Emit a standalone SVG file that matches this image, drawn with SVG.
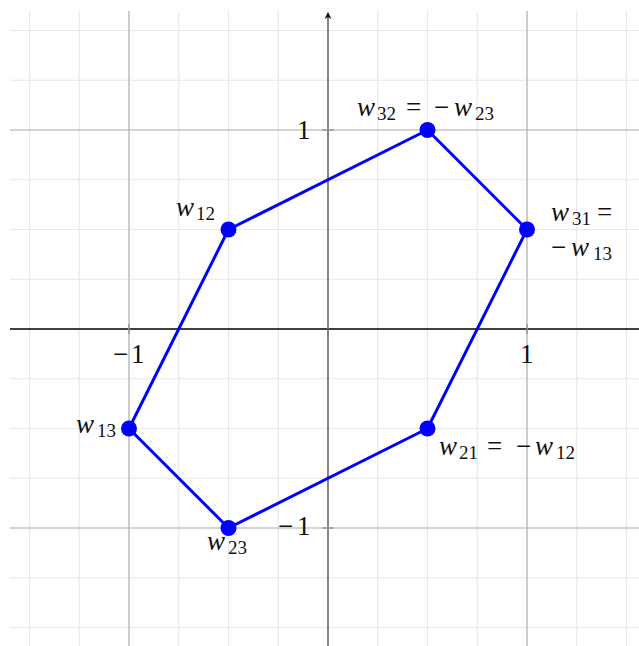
<svg xmlns="http://www.w3.org/2000/svg" width="639" height="646" viewBox="0 0 639 646" font-family="Liberation Serif, DejaVu Serif, serif">
<style>
.minor{stroke:#e8e8e8;stroke-width:1.2;fill:none}
.majv{stroke:#cccccc;stroke-width:2;fill:none}
.majh{stroke:#aaaaaa;stroke-width:1.2;fill:none}
.tick{stroke:#999;stroke-width:1.5}
.m{font-family:'Liberation Serif',serif;font-size:27px;fill:#111}
.i{font-style:italic}
.s{font-size:19px}
.edge{stroke:#0000ff;stroke-width:3;fill:none;stroke-linejoin:round}
.dot{fill:#0000ff}
</style>
<defs>
<marker id="ah" markerWidth="8" markerHeight="8" refX="6" refY="4" orient="auto" markerUnits="userSpaceOnUse">
<path d="M0,0.5 L7,4 L0,7.5 L2,4 Z" fill="#111"/>
</marker>
</defs>
<rect width="639" height="646" fill="#fff"/>
<g id="grid">
<path class="minor" d="M29.5,11V646M79.25,11V646M178.75,11V646M228.5,11V646M278.25,11V646M377.75,11V646M427.5,11V646M477.25,11V646M576.75,11V646M626.5,11V646"/>
<path class="minor" d="M10,30.5H639M10,80.25H639M10,179.75H639M10,229.5H639M10,279.25H639M10,378.75H639M10,428.5H639M10,478.25H639M10,577.75H639M10,627.5H639"/>
<path class="majv" d="M129,11V646M527,11V646"/>
<path class="majh" d="M10,130H639M10,528H639"/>
</g>
<g id="axes">
<line x1="10" y1="329" x2="639" y2="329" stroke="#000" stroke-width="1.5"/>
<line x1="328" y1="646" x2="328" y2="13" stroke="#666" stroke-width="1.6" marker-end="url(#ah)"/>
<path class="tick" d="M129,324V334M527,324V334M322,130H334M322,528H334"/>
<text class="m" font-family="Liberation Serif, serif" x="113" y="363">−</text><text class="m" font-family="Liberation Serif, serif" x="131" y="363">1</text>
<text class="m" font-family="Liberation Serif, serif" x="520" y="363">1</text>
<text class="m" font-family="Liberation Serif, serif" x="297" y="139">1</text>
<text class="m" font-family="Liberation Serif, serif" x="278" y="535">−</text><text class="m" font-family="Liberation Serif, serif" x="297" y="535">1</text>
</g>
<g id="connectors">
<polygon class="edge" points="228.5,229.5 427.5,130 527,229.5 427.5,428.5 228.5,528 129,428.5"/>
</g>
<g id="w12">
<circle class="dot" cx="228.5" cy="229.5" r="8"/>
<text class="m" font-family="Liberation Serif, serif" y="216"><tspan class="i" x="176">w</tspan><tspan class="s" x="196" y="220">12</tspan></text>
</g>
<g id="w32">
<circle class="dot" cx="427.5" cy="130" r="8"/>
<text class="m" font-family="Liberation Serif, serif" y="116"><tspan class="i" x="357">w</tspan><tspan class="s" x="377" y="120">32</tspan><tspan x="406" y="116">=</tspan><tspan x="434">−</tspan><tspan class="i" x="454">w</tspan><tspan class="s" x="475" y="120">23</tspan></text>
</g>
<g id="w31">
<circle class="dot" cx="527" cy="229.5" r="8"/>
<text class="m" font-family="Liberation Serif, serif" y="221"><tspan class="i" x="551">w</tspan><tspan class="s" x="572" y="225">31</tspan><tspan x="597" y="221">=</tspan></text>
<text class="m" font-family="Liberation Serif, serif" y="256"><tspan x="551">−</tspan><tspan class="i" x="571">w</tspan><tspan class="s" x="593" y="260">13</tspan></text>
</g>
<g id="w21">
<circle class="dot" cx="427.5" cy="428.5" r="8"/>
<text class="m" font-family="Liberation Serif, serif" y="455"><tspan class="i" x="439">w</tspan><tspan class="s" x="459" y="459">21</tspan><tspan x="487" y="455">=</tspan><tspan x="516">−</tspan><tspan class="i" x="535">w</tspan><tspan class="s" x="556" y="459">12</tspan></text>
</g>
<g id="w23">
<circle class="dot" cx="228.5" cy="528" r="8"/>
<text class="m" font-family="Liberation Serif, serif" y="550"><tspan class="i" x="207">w</tspan><tspan class="s" x="228" y="554">23</tspan></text>
</g>
<g id="w13">
<circle class="dot" cx="129" cy="428.5" r="8"/>
<text class="m" font-family="Liberation Serif, serif" y="433"><tspan class="i" x="76">w</tspan><tspan class="s" x="97" y="437">13</tspan></text>
</g>
</svg>
